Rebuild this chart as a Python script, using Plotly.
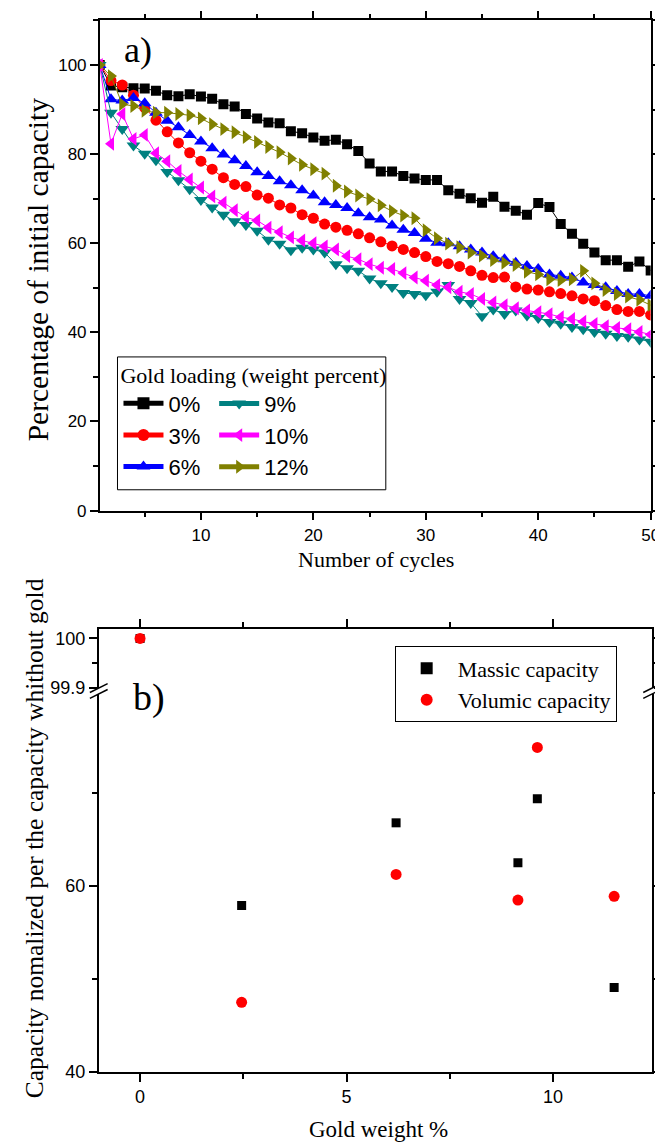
import plotly.graph_objects as go

W, H = 663, 1148


def px(x):
    return x / W


def py(y):
    return 1 - y / H


# ---------------- data: panel a ----------------
cycles = list(range(1, 51))
cap_0 = [100, 95.4, 95.0, 94.8, 94.7, 94.2, 93.2, 93.0, 93.4, 92.9,
         92.4, 91.2, 90.7, 89.0, 88.0, 87.1, 86.9, 85.1, 84.7, 83.7,
         83.0, 83.2, 82.2, 80.7, 77.9, 76.1, 76.1, 75.1, 74.5, 74.2,
         74.2, 71.9, 71.1, 70.1, 69.1, 70.4, 68.2, 67.3, 66.4, 69.0,
         68.1, 64.3, 62.1, 59.9, 57.9, 56.2, 56.2, 54.7, 55.9, 53.9]
cap_3 = [100, 96.5, 95.5, 93.2, 90.4, 87.6, 85.0, 82.5, 80.3, 78.4,
         76.6, 74.7, 73.2, 72.7, 70.8, 70.1, 68.6, 67.9, 66.4, 65.6,
         64.3, 63.6, 62.9, 62.1, 61.2, 60.3, 59.4, 58.6, 57.9, 57.0,
         55.9, 55.4, 54.8, 53.8, 52.8, 52.3, 52.4, 50.2, 49.7, 49.5,
         49.1, 48.7, 48.2, 47.5, 47.1, 46.0, 45.1, 44.7, 44.7, 43.9]
cap_6 = [100, 92.3, 92.0, 92.6, 91.4, 89.3, 87.5, 86.0, 84.3, 82.8,
         81.3, 79.9, 78.6, 77.3, 75.9, 75.1, 73.9, 73.0, 71.9, 70.7,
         69.2, 68.6, 67.9, 66.7, 65.8, 65.3, 64.0, 63.0, 62.3, 61.0,
         60.1, 60.0, 59.3, 58.6, 57.9, 57.1, 56.4, 55.6, 54.9, 54.2,
         53.0, 52.7, 52.3, 51.2, 50.6, 50.1, 49.3, 48.6, 48.6, 48.2]
cap_9 = [100, 89.3, 85.6, 81.9, 80.1, 78.6, 76.0, 74.1, 72.1, 69.7,
         68.0, 66.4, 64.9, 64.1, 62.8, 60.8, 59.9, 58.4, 59.0, 58.6,
         57.9, 55.3, 54.4, 53.8, 52.1, 51.0, 50.2, 48.8, 48.6, 48.3,
         49.1, 50.6, 47.5, 46.6, 43.6, 45.1, 44.1, 44.9, 43.8, 43.2,
         42.3, 41.9, 41.2, 40.7, 40.1, 39.7, 39.2, 39.0, 38.4, 37.9]
cap_10 = [100, 82.3, 89.0, 83.4, 84.3, 80.2, 78.4, 76.2, 74.3, 72.5,
          70.5, 69.1, 67.4, 65.8, 65.1, 63.5, 62.5, 61.3, 60.6, 60.0,
          59.3, 58.6, 57.1, 56.4, 55.3, 54.5, 54.2, 53.3, 52.3, 51.6,
          50.6, 50.1, 49.1, 48.6, 47.5, 46.7, 46.1, 45.4, 44.9, 44.5,
          44.1, 43.4, 43.0, 42.4, 41.9, 41.4, 41.0, 40.7, 40.1, 39.5]
cap_12 = [100, 97.5, 91.2, 90.8, 89.7, 89.3, 89.3, 89.0, 88.7, 88.0,
          86.7, 85.6, 84.9, 83.8, 82.7, 81.6, 80.4, 79.0, 77.6, 76.6,
          75.6, 72.9, 71.6, 70.7, 69.9, 68.5, 67.2, 66.2, 65.6, 62.9,
          61.1, 59.9, 59.1, 57.9, 57.2, 56.2, 55.6, 55.1, 53.6, 53.0,
          51.9, 51.7, 51.9, 53.8, 51.0, 49.5, 48.6, 48.0, 47.3, 46.1]

series_names = ["0%", "3%", "6%", "9%", "10%", "12%"]
series_values = [cap_0, cap_3, cap_6, cap_9, cap_10, cap_12]
series_colors = ["#000000", "#FF0000", "#0000FF", "#008080", "#FF00FF", "#808000"]
series_symbols = ["square", "circle", "triangle-up", "triangle-down", "triangle-left", "triangle-right"]
series_sizes = [10, 11, 12, 12, 12, 12]
series_legend = ["legend", "legend", "legend", "legend2", "legend2", "legend2"]

# ---------------- data: panel b ----------------
gold_weight = [0, 2.46, 6.2, 9.15, 9.62, 11.48]
massic_capacity = [100, 57.9, 66.8, 62.5, 69.4, 49.1]
volumic_capacity = [100, 47.5, 61.25, 58.5, 74.9, 58.9]
break_value = 99.9

SANS = "Liberation Sans"
SERIF = "Liberation Serif"

fig = go.Figure()

# panel a traces
for name, vals, col, sym, size, leg in zip(series_names, series_values, series_colors,
                                            series_symbols, series_sizes, series_legend):
    fig.add_trace(go.Scatter(
        x=cycles, y=vals, name=name, mode="lines+markers",
        line=dict(color=col, width=1),
        marker=dict(symbol=sym, size=size, color=col, line=dict(width=0)),
        xaxis="x", yaxis="y", legend=leg,
    ))

# panel b traces (split into upper / lower part of the broken axis)
for name, vals, col, sym, size in [("Massic capacity", massic_capacity, "#000000", "square", 9),
                                   ("Volumic capacity", volumic_capacity, "#FF0000", "circle", 11)]:
    lo_x = [g for g, v in zip(gold_weight, vals) if v < break_value]
    lo_y = [v for v in vals if v < break_value]
    hi_x = [g for g, v in zip(gold_weight, vals) if v >= break_value]
    hi_y = [v for v in vals if v >= break_value]
    fig.add_trace(go.Scatter(x=lo_x, y=lo_y, name=name, mode="markers",
                             marker=dict(symbol=sym, size=size, color=col, line=dict(width=0)),
                             xaxis="x2", yaxis="y2", legend="legend3", legendgroup=name))
    fig.add_trace(go.Scatter(x=hi_x, y=hi_y, name=name, mode="markers",
                             marker=dict(symbol=sym, size=size, color=col, line=dict(width=0)),
                             xaxis="x3", yaxis="y3", legend="legend3", legendgroup=name,
                             showlegend=False))


def axis_common(fs):
    return dict(showline=True, linecolor="black", linewidth=1.5, ticks="outside",
                ticklen=8, tickwidth=1.5, tickcolor="black", showgrid=False,
                zeroline=False, tickfont=dict(family=SANS, size=fs, color="black"))


def minor(**kw):
    return dict(ticklen=5, tickwidth=1.5, ticks="outside", tickcolor="black", **kw)


fig.update_layout(
    width=W, height=H, autosize=False,
    margin=dict(l=0, r=0, t=0, b=0),
    paper_bgcolor="white", plot_bgcolor="white",
    # panel a
    xaxis=dict(domain=[px(93), px(651.5)], anchor="y", range=[1, 50], tick0=0, dtick=10,
               mirror="ticks", minor=minor(dtick=5), **axis_common(17)),
    yaxis=dict(domain=[py(507), py(12.5)], anchor="x", range=[0, 110], tick0=0, dtick=20,
               mirror="ticks", minor=minor(dtick=10), **axis_common(17)),
    # panel b, lower segment
    xaxis2=dict(domain=[px(92), px(653)], anchor="y2", range=[-1, 12.4],
                tickvals=[0, 5, 10], minor=minor(tickvals=[2.5, 7.5]), **axis_common(18)),
    yaxis2=dict(domain=[py(1073.5), py(692)], anchor="x2", range=[40, 80.65],
                tickvals=[40, 60], mirror="ticks", minor=minor(tickvals=[50, 70]),
                **axis_common(18)),
    # panel b, upper segment
    xaxis3=dict(domain=[px(92), px(653)], anchor="y3", range=[-1, 12.4], side="top",
                tickvals=[0, 5, 10], showticklabels=False,
                minor=minor(tickvals=[2.5, 7.5]), **axis_common(18)),
    yaxis3=dict(domain=[py(686), py(626)], anchor="x3", range=[99.9, 100.02],
                tickvals=[99.9, 100], ticktext=["99.9", "100"], mirror="ticks",
                minor=minor(tickvals=[99.95]), **axis_common(18)),
    legend=dict(title=dict(text="Gold loading (weight percent)", side="top",
                           font=dict(family=SERIF, size=22, color="black")),
                x=px(112), y=py(349), xanchor="left", yanchor="top",
                font=dict(family=SANS, size=22, color="black"),
                bgcolor="rgba(0,0,0,0)", borderwidth=0, itemwidth=40,
                tracegroupgap=0, itemsizing="constant"),
    legend2=dict(x=px(209), y=py(378), xanchor="left", yanchor="top",
                 font=dict(family=SANS, size=22, color="black"),
                 bgcolor="rgba(0,0,0,0)", borderwidth=0, itemwidth=40,
                 tracegroupgap=0, itemsizing="constant"),
    legend3=dict(x=px(392), y=py(644), xanchor="left", yanchor="top",
                 font=dict(family=SERIF, size=22, color="black"),
                 bgcolor="white", bordercolor="black", borderwidth=1, itemwidth=52,
                 itemsizing="constant", tracegroupgap=0),
    showlegend=True,
)

# legend frame of panel a
fig.add_shape(type="rect", xref="paper", yref="paper",
              x0=px(111), x1=px(383), y0=py(486), y1=py(352),
              line=dict(color="black", width=1), fillcolor="rgba(0,0,0,0)", layer="below")

# axis-break marks (panel b)
for xc in (92, 653):
    for dy in (-3, 3):
        fig.add_shape(type="line", xref="paper", yref="paper",
                      x0=px(xc - 9), y0=py(689 + dy + 4.5), x1=px(xc + 9), y1=py(689 + dy - 4.5),
                      line=dict(color="black", width=1.5))


def label(text, x, y, size, angle=0):
    fig.add_annotation(text=text, x=px(x), y=py(y), xref="paper", yref="paper",
                       xanchor="center", yanchor="middle", showarrow=False, textangle=angle,
                       font=dict(family=SERIF, size=size, color="black"))


label("a)", 132, 42, 36)
label("b)", 143, 696, 38)
label("Percentage of initial capacity", 30, 264, 29.5, -90)
label("Number of cycles", 373, 556, 22)
label("Capacity nomalized per the capacity whithout gold", 27, 838, 25.5, -90)
label("Gold weight %", 376, 1131, 23)

fig.write_html("out.html")
